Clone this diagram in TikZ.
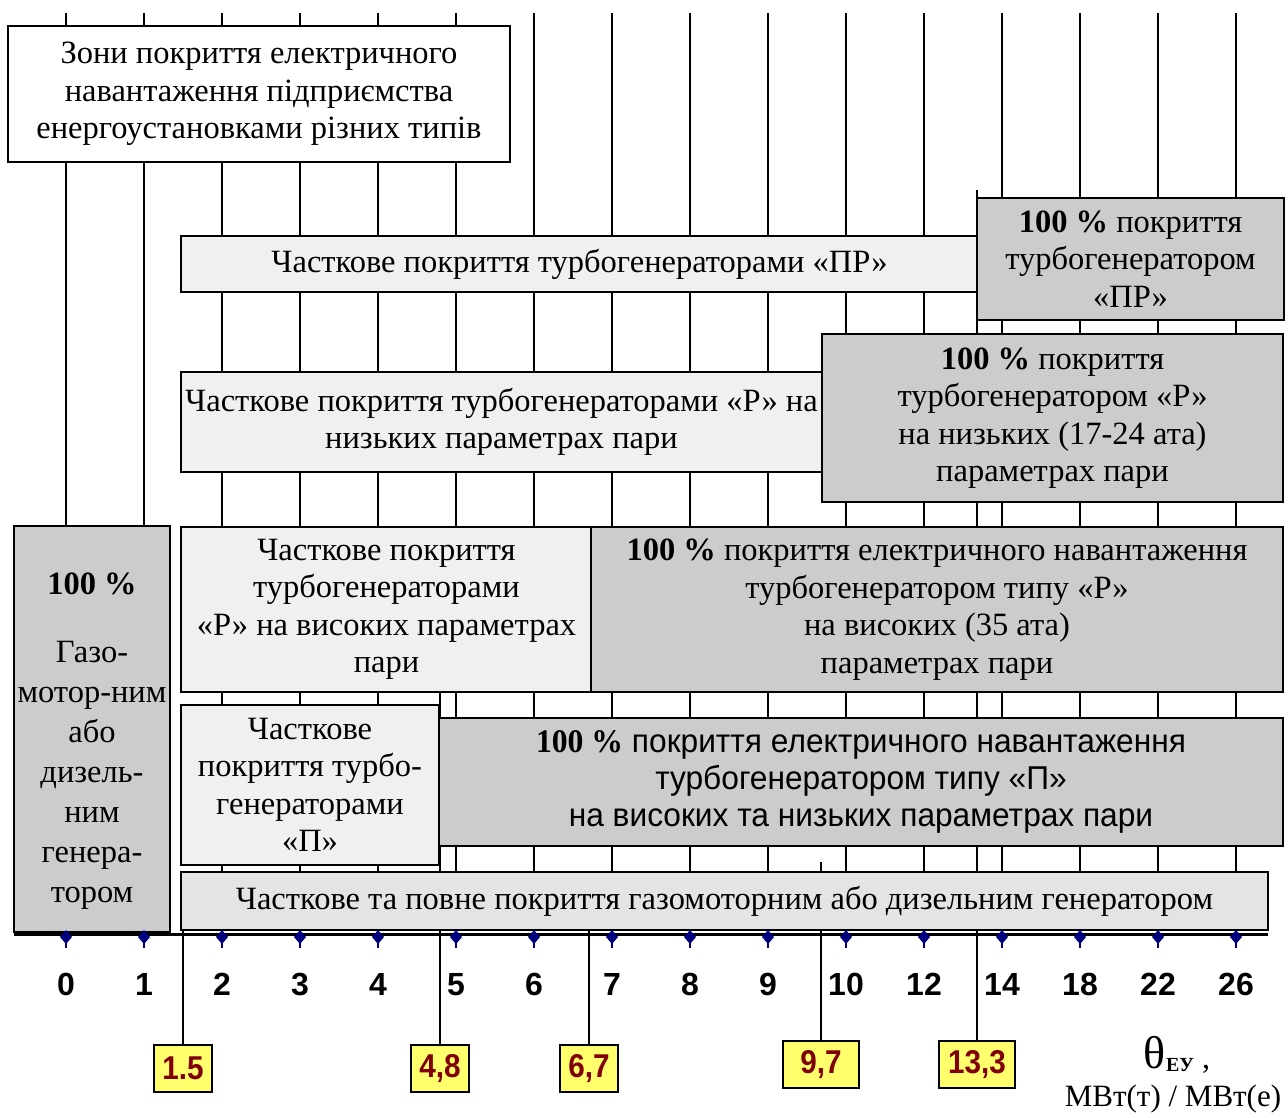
\documentclass[tikz,border=0pt]{standalone}
\usepackage{fontspec}
\setmainfont{Liberation Serif}
\newfontfamily\narrowsans[FakeStretch=0.96]{Liberation Sans}
\newfontfamily\narrowserif[FakeStretch=0.96]{Liberation Serif}
\newfontfamily\tagsans[FakeStretch=0.9]{Liberation Sans}
\newfontfamily\plainsans{Liberation Sans}
\definecolor{lightfill}{HTML}{F0F0F0}
\definecolor{grayfill}{HTML}{CCCCCC}
\definecolor{gmfill}{HTML}{E4E4E4}
\definecolor{tickblue}{HTML}{000080}
\definecolor{numred}{HTML}{800000}
\definecolor{tagyellow}{HTML}{FFFF6E}
\pgfdeclarelayer{bg}
\pgfsetlayers{bg,main}
\begin{document}
\begin{tikzpicture}[x=1pt,y=-1pt,
  zone/.style={draw=black,line width=1.8pt,inner sep=0pt,align=center,
    font=\fontsize{32.5}{37.5}\selectfont},
  light/.style={zone,fill=lightfill},
  dark/.style={zone,fill=grayfill},
  tag/.style={draw=black,line width=1.5pt,fill=tagyellow,inner sep=0pt,
    text=numred,font=\tagsans\bfseries\fontsize{33}{33}\selectfont},
  ticklab/.style={anchor=base,inner sep=0pt,font=\plainsans\bfseries\fontsize{32}{32}\selectfont},
  gridline/.style={line width=2.5pt},
  leader/.style={line width=1.5pt}
]
\useasboundingbox (0,0) rectangle (1288,1118);

% boxes
\node[zone,fill=white,minimum width=502,minimum height=136] (title) at (259,94)
  {Зони покриття електричного\\навантаження підприємства\\енергоустановками різних типів};
\node[light,minimum width=797,minimum height=56] (prpart) at (579.5,264)
  {Часткове покриття турбогенераторами «ПР»};
\node[dark,minimum width=307,minimum height=122] (prfull) at (1130.5,259)
  {\textbf{100 \%} покриття\\турбогенератором\\«ПР»};
\node[light,minimum width=641,minimum height=100] (rlowpart) at (501.5,422)
  {Часткове покриття турбогенераторами «Р» на\\низьких параметрах пари};
\node[dark,minimum width=461,minimum height=168] (rlowfull) at (1052.5,418)
  {\textbf{100 \%} покриття\\турбогенератором «Р»\\на низьких (17-24 ата)\\параметрах пари};
\node[light,minimum width=411,minimum height=165] (rhighpart) at (386.5,609.5)
  {Часткове покриття\\турбогенераторами\\«Р» на високих параметрах\\пари};
\node[dark,minimum width=692,minimum height=165] (rhighfull) at (937,609.5)
  {\textbf{100 \%} покриття електричного навантаження\\турбогенератором типу «Р»\\на високих (35 ата)\\параметрах пари};
\node[light,minimum width=258,minimum height=160] (ppart) at (310,785)
  {Часткове\\покриття турбо-\\генераторами\\«П»};
\node[dark,minimum width=844,minimum height=128,font=\narrowsans\fontsize{33}{37}\selectfont] (pfull) at (861,782)
  {{\narrowserif\bfseries 100 \%} покриття електричного навантаження\\турбогенератором типу «П»\\на високих та низьких параметрах пари};
\node[zone,fill=gmfill,minimum width=1087,minimum height=58] (gmpart) at (724.5,901)
  {Часткове та повне покриття газомоторним або дизельним генератором};
\node[dark,minimum width=156,minimum height=406] (gmfull) at (92,729) {};
\node[align=center,inner sep=0pt,font=\fontsize{32.5}{40}\selectfont] (gmtext) at (92,741)
  {\textbf{100 \%}\\[28pt]Газо-\\мотор-ним\\або\\дизель-\\ним\\генера-\\тором};

% value tags
\node[tag,minimum width=58,minimum height=47] (v15) at (183,1068.5) {1.5};
\node[tag,minimum width=58,minimum height=47] (v48) at (440,1068.5) {4,8};
\node[tag,minimum width=58,minimum height=47] (v67) at (589,1068.5) {6,7};
\node[tag,minimum width=76,minimum height=47] (v97) at (821,1064.5) {9,7};
\node[tag,minimum width=76,minimum height=47] (v133) at (977,1064.5) {13,3};

\coordinate (e15) at (183,872);
\coordinate (e48) at (440,692);
\coordinate (e67) at (589,872);
\coordinate (e97) at (821,862);
\coordinate (e133) at (977,190);

\begin{pgfonlayer}{bg}
  \foreach \i in {0,...,15}
    \draw[gridline] (66+78*\i,13) -- (66+78*\i,934);
  \draw[leader] (v15.north) -- (e15);
  \draw[leader] (v48.north) -- (e48);
  \draw[leader] (v67.north) -- (e67);
  \draw[leader] (v97.north) -- (e97);
  \draw[leader] (v133.north) -- (e133);
\end{pgfonlayer}

% axis
\coordinate (axL) at (14,934);
\coordinate (axR) at (1268,934);
\draw[line width=3pt] (axL) -- (axR);
\foreach \v [count=\i from 0] in {0,1,2,3,4,5,6,7,8,9,10,12,14,18,22,26} {
  \fill[tickblue] (66+78*\i,930) -- (72+78*\i,937) -- (66+78*\i,944) -- (60+78*\i,937) -- cycle;
  \draw[tickblue,line width=2pt] (66+78*\i,937) -- (66+78*\i,948);
  \node[ticklab] (t\i) at (66+78*\i,995) {\v};
}

\node[anchor=base,inner sep=0pt] (theta) at (1177,1068)
  {{\fontsize{46}{46}\selectfont θ}\raisebox{-3pt}{\fontsize{20}{20}\selectfont\bfseries ЕУ}{\fontsize{32}{32}\selectfont\ ,}};
\node[anchor=base,inner sep=0pt,font=\fontsize{31}{31}\selectfont] (units) at (1173,1106) {МВт(т) / МВт(е)};
\end{tikzpicture}
\end{document}
